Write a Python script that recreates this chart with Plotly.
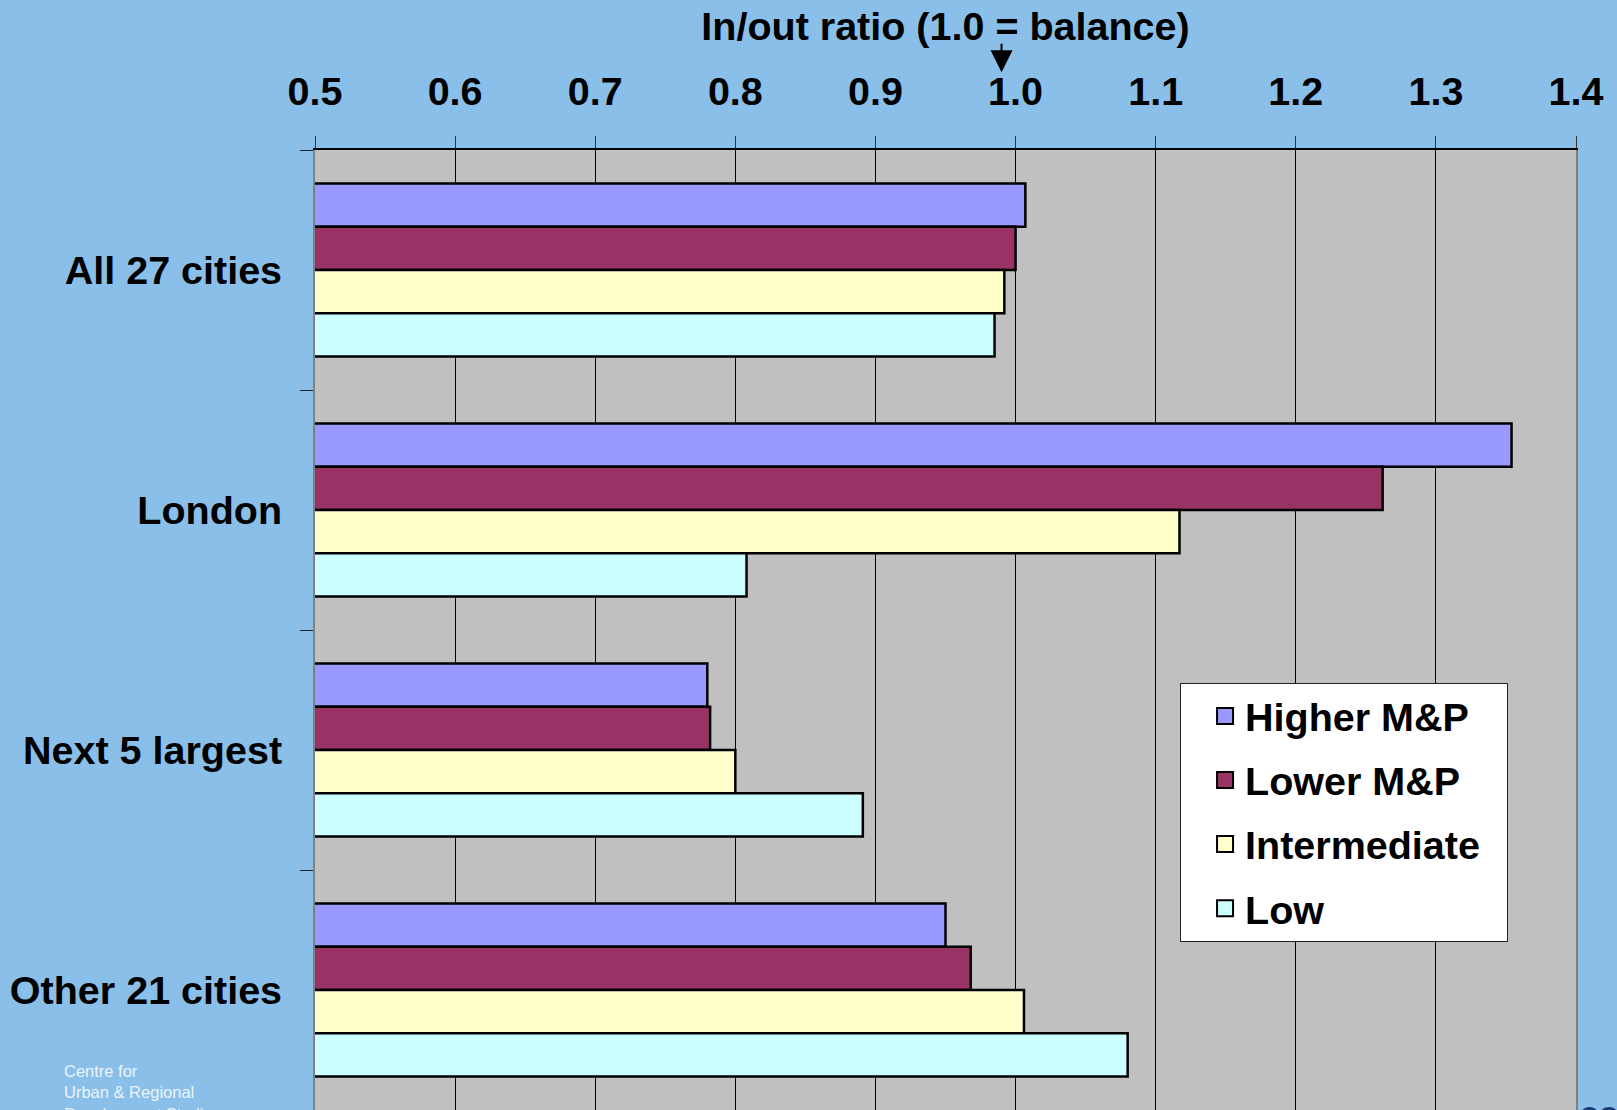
import plotly.graph_objects as go

categories = ["All 27 cities", "London", "Next 5 largest", "Other 21 cities"]
series_names = ["Higher M&P", "Lower M&P", "Intermediate", "Low"]
higher_mp = [1.007, 1.354, 0.780, 0.950]
lower_mp = [1.000, 1.262, 0.782, 0.968]
intermediate = [0.992, 1.117, 0.800, 1.006]
low = [0.985, 0.808, 0.891, 1.080]
series_values = [higher_mp, lower_mp, intermediate, low]
colors = ["#9999FF", "#993366", "#FFFFCC", "#CCFFFF"]
tick_vals = [0.5, 0.6, 0.7, 0.8, 0.9, 1.0, 1.1, 1.2, 1.3, 1.4]
x_title = "In/out ratio (1.0 = balance)"

FONT = "Liberation Sans, Arial, sans-serif"
FS = 39.5
BG = "#89BFE9"
PAD = "\u00a0\u00a0"

fig = go.Figure()
for name, vals, col in zip(series_names, series_values, colors):
    fig.add_trace(go.Bar(
        y=categories, x=vals, name=name, orientation="h",
        marker=dict(color=col, line=dict(color="black", width=2.5)),
        showlegend=False,
    ))
for i, (name, col) in enumerate(zip(series_names, colors)):
    fig.add_trace(go.Scatter(
        x=[None], y=[None], mode="markers", name=name + PAD,
        legendgroup=f"g{i}",
        marker=dict(symbol="square", size=16, color=col,
                    line=dict(color="black", width=2)),
    ))

fig.update_layout(
    width=1617, height=1110,
    paper_bgcolor=BG, plot_bgcolor="#C0C0C0",
    margin=dict(l=315, r=41, t=150, b=0),
    font=dict(family=FONT, size=FS, color="black", weight="bold"),
    barmode="group", bargap=0.28, bargroupgap=0,
    title=dict(text=x_title, x=0.5, xref="paper", xanchor="center",
               y=1 - 26 / 1110, yref="container", yanchor="middle",
               font=dict(family=FONT, size=FS, color="black", weight="bold")),
    legend=dict(
        x=0.686, y=0.445, xanchor="left", yanchor="top",
        bgcolor="white", bordercolor="#222222", borderwidth=1,
        font=dict(family=FONT, size=FS, color="black", weight="bold"),
        traceorder="grouped", tracegroupgap=9.7, indentation=24,
    ),
    xaxis=dict(
        side="top", range=[0.5, 1.4], tickvals=tick_vals, tickformat=".1f",
        showgrid=True, gridcolor="black", gridwidth=1, zeroline=False,
        showline=True, linecolor="black", linewidth=1.5,
        ticks="outside", ticklen=12, tickcolor="#333333", tickwidth=1,
        ticklabelstandoff=15,
    ),
    yaxis=dict(
        categoryorder="array", categoryarray=categories, autorange="reversed",
        showline=True, linecolor="#808080", linewidth=2, mirror=True,
        ticks="outside", ticklen=13, tickcolor="#222222", tickwidth=1,
        tickson="boundaries", showgrid=False, ticklabelstandoff=23,
    ),
    showlegend=True,
)

fig.add_annotation(
    xref="x", yref="paper", x=0.99, y=1.081, ax=0, ay=-30,
    text="", showarrow=True, arrowhead=2, arrowsize=2.2, arrowwidth=2,
    arrowcolor="black",
)
fig.add_annotation(
    xref="paper", yref="paper", x=-0.2006, y=0.052, xanchor="left", yanchor="top",
    text="Centre for<br>Urban &amp; Regional<br>Development Studies",
    showarrow=False, align="left",
    font=dict(family=FONT, size=16.5, color="rgba(255,255,255,0.85)", weight="normal"),
)
fig.add_annotation(
    xref="paper", yref="paper", x=1.0008, y=0.019, xanchor="left", yanchor="top",
    text="ca", showarrow=False,
    font=dict(family=FONT, size=36, color="#1a3c78", weight="bold"),
)

fig.write_html("out.html")
